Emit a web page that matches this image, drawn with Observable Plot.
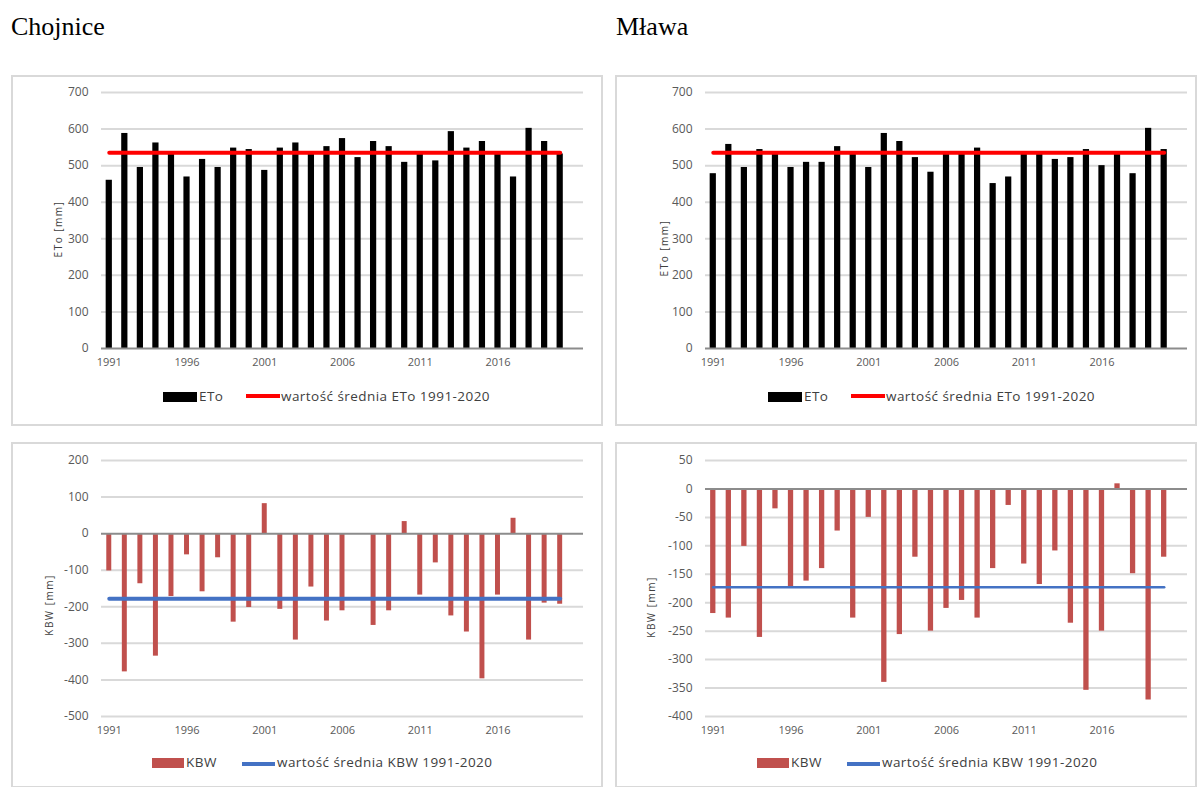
<!DOCTYPE html>
<html><head><meta charset="utf-8">
<script src="https://cdn.jsdelivr.net/npm/d3@7"></script>
<script src="https://cdn.jsdelivr.net/npm/@observablehq/plot@0.6"></script>
<style>
body{margin:0;background:#fff;width:1197px;height:787px;position:relative;overflow:hidden;font-family:"Open Sans",sans-serif}
.title{position:absolute;font-family:"Liberation Serif",serif;font-size:26px;line-height:26px;color:#000}
.box{position:absolute;border:2px solid #d9d9d9;box-sizing:border-box}
.chart{position:absolute}
.leg{position:absolute;font-size:13.5px;letter-spacing:0.45px;line-height:15px;color:#404040;white-space:nowrap}
.sw{position:absolute}
.ytitle{position:absolute;font-size:10px;line-height:10px;letter-spacing:1.5px;color:#404040;white-space:nowrap;transform:translate(-50%,-50%) rotate(-90deg)}
</style></head>
<body>
<script>
// ---- data ----
const years = [1991,1992,1993,1994,1995,1996,1997,1998,1999,2000,2001,2002,2003,2004,2005,2006,2007,2008,2009,2010,2011,2012,2013,2014,2015,2016,2017,2018,2019,2020];
const slots = [...years, 2021];
const xTicks = [1991,1996,2001,2006,2011,2016];

const etoChojnice = [460,588,495,562,532,469,517,495,548,544,487,548,562,532,552,574,522,566,552,509,532,513,593,548,566,532,469,602,566,532];
const etoMlawa    = [478,558,495,544,532,495,509,509,552,532,495,588,566,522,482,532,532,548,451,469,532,532,517,522,544,500,532,478,602,544];
const kbwChojnice = [-102,-378,-137,-335,-172,-58,-159,-66,-242,-202,82,-207,-291,-146,-239,-211,0,-251,-211,33,-168,-80,-225,-269,-397,-168,42,-291,-190,-193];
const kbwMlawa    = [-219,-227,-101,-261,-35,-172,-162,-140,-74,-227,-50,-340,-256,-120,-250,-210,-196,-227,-140,-29,-132,-168,-109,-236,-354,-250,9,-149,-371,-120];

const etoMeanChojnice = 535;
const etoMeanMlawa = 535;
const kbwMeanChojnice = -178;
const kbwMeanMlawa = -173;

const etoTicks = [0,100,200,300,400,500,600,700];
const kbwTicksChojnice = [-500,-400,-300,-200,-100,0,100,200];
const kbwTicksMlawa = [-400,-350,-300,-250,-200,-150,-100,-50,0,50];

const titles = ["Chojnice", "Mława"];
const legendEto = ["ETo", "wartość średnia ETo 1991-2020"];
const legendKbw = ["KBW", "wartość średnia KBW 1991-2020"];
const yTitleEto = "ETo [mm]";
const yTitleKbw = "KBW [mm]";

// ---- helpers ----
function el(cls, style, text) {
  const d = document.createElement("div");
  d.className = cls;
  Object.assign(d.style, style);
  if (text != null) d.textContent = text;
  document.body.appendChild(d);
  return d;
}

function chart({left, top, values, mean, ticks, barColor, lineColor, lineWidth, pad}) {
  const data = years.map((y, i) => ({year: y, value: values[i], mean}));
  const svg = Plot.plot({
    width: 571, height: 298,
    marginLeft: 89, marginRight: 0, marginTop: 12, marginBottom: 30,
    style: {color: "#595959", fontFamily: "Open Sans", fontSize: "11px", background: "transparent"},
    x: {type: "band", domain: slots, paddingInner: pad, paddingOuter: pad / 2, round: false},
    y: {domain: [ticks[0], ticks[ticks.length - 1]]},
    marks: [
      Plot.ruleY(ticks.filter(t => t !== 0), {stroke: "#d9d9d9", strokeWidth: 2}),
      Plot.barY(data, {x: "year", y: "value", fill: barColor}),
      Plot.ruleY([0], {stroke: "#8c8c8c", strokeWidth: 2}),
      Plot.lineY(data, {x: "year", y: "mean", stroke: lineColor, strokeWidth: lineWidth}),
      Plot.axisX(xTicks, {tickSize: 0, tickPadding: 10, tickFormat: d => String(d), label: null, fontSize: 11}),
      Plot.axisY(ticks, {tickSize: 0, tickPadding: 13, tickFormat: d => String(d), label: null, fontSize: 12})
    ]
  });
  const wrap = document.createElement("div");
  wrap.className = "chart";
  wrap.style.left = left + "px";
  wrap.style.top = top + "px";
  wrap.appendChild(svg);
  document.body.appendChild(wrap);
}

function legend(dx, names, swColor, lineColor, L) {
  el("sw", {left: (L.rect[0] + dx) + "px", top: L.rect[1] + "px", width: L.rect[2] + "px", height: "10px", background: swColor});
  el("leg", {left: (L.t1 + dx) + "px", top: L.ty + "px"}, names[0]);
  el("sw", {left: (L.line[0] + dx) + "px", top: L.line[1] + "px", width: L.line[2] + "px", height: L.line[3] + "px", background: lineColor});
  el("leg", {left: (L.t2 + dx) + "px", top: L.ty + "px"}, names[1]);
}

function ytitle(cx, cy, text) {
  el("ytitle", {left: cx + "px", top: cy + "px"}, text);
}

// ---- page ----
el("title", {left: "11px", top: "14px"}, titles[0]);
el("title", {left: "616px", top: "14px"}, titles[1]);

el("box", {left: "11px", top: "75px", width: "592px", height: "351px"});
el("box", {left: "615px", top: "75px", width: "582px", height: "351px"});
el("box", {left: "11px", top: "442px", width: "592px", height: "346px"});
el("box", {left: "615px", top: "442px", width: "582px", height: "346px"});

chart({left: 12, top: 80, values: etoChojnice, mean: etoMeanChojnice, ticks: etoTicks, barColor: "#000000", lineColor: "#ff0000", lineWidth: 4, pad: 0.6});
chart({left: 616, top: 80, values: etoMlawa, mean: etoMeanMlawa, ticks: etoTicks, barColor: "#000000", lineColor: "#ff0000", lineWidth: 4, pad: 0.6});
chart({left: 12, top: 448, values: kbwChojnice, mean: kbwMeanChojnice, ticks: kbwTicksChojnice, barColor: "#c0504d", lineColor: "#4472c4", lineWidth: 4, pad: 0.68});
chart({left: 616, top: 448, values: kbwMlawa, mean: kbwMeanMlawa, ticks: kbwTicksMlawa, barColor: "#c0504d", lineColor: "#4472c4", lineWidth: 2.5, pad: 0.66});

const legTop = {rect: [163, 392, 34], t1: 199, ty: 389, line: [246, 394, 34, 4], t2: 281};
const legBot = {rect: [152, 758, 32], t1: 186, ty: 755, line: [242, 762, 33, 4], t2: 277};
legend(0, legendEto, "#000000", "#ff0000", legTop);
legend(605, legendEto, "#000000", "#ff0000", legTop);
legend(0, legendKbw, "#c0504d", "#4472c4", legBot);
legend(605, legendKbw, "#c0504d", "#4472c4", legBot);

ytitle(58, 229, yTitleEto);
ytitle(664, 248, yTitleEto);
ytitle(49, 605, yTitleKbw);
ytitle(651, 607, yTitleKbw);
</script>
</body></html>
